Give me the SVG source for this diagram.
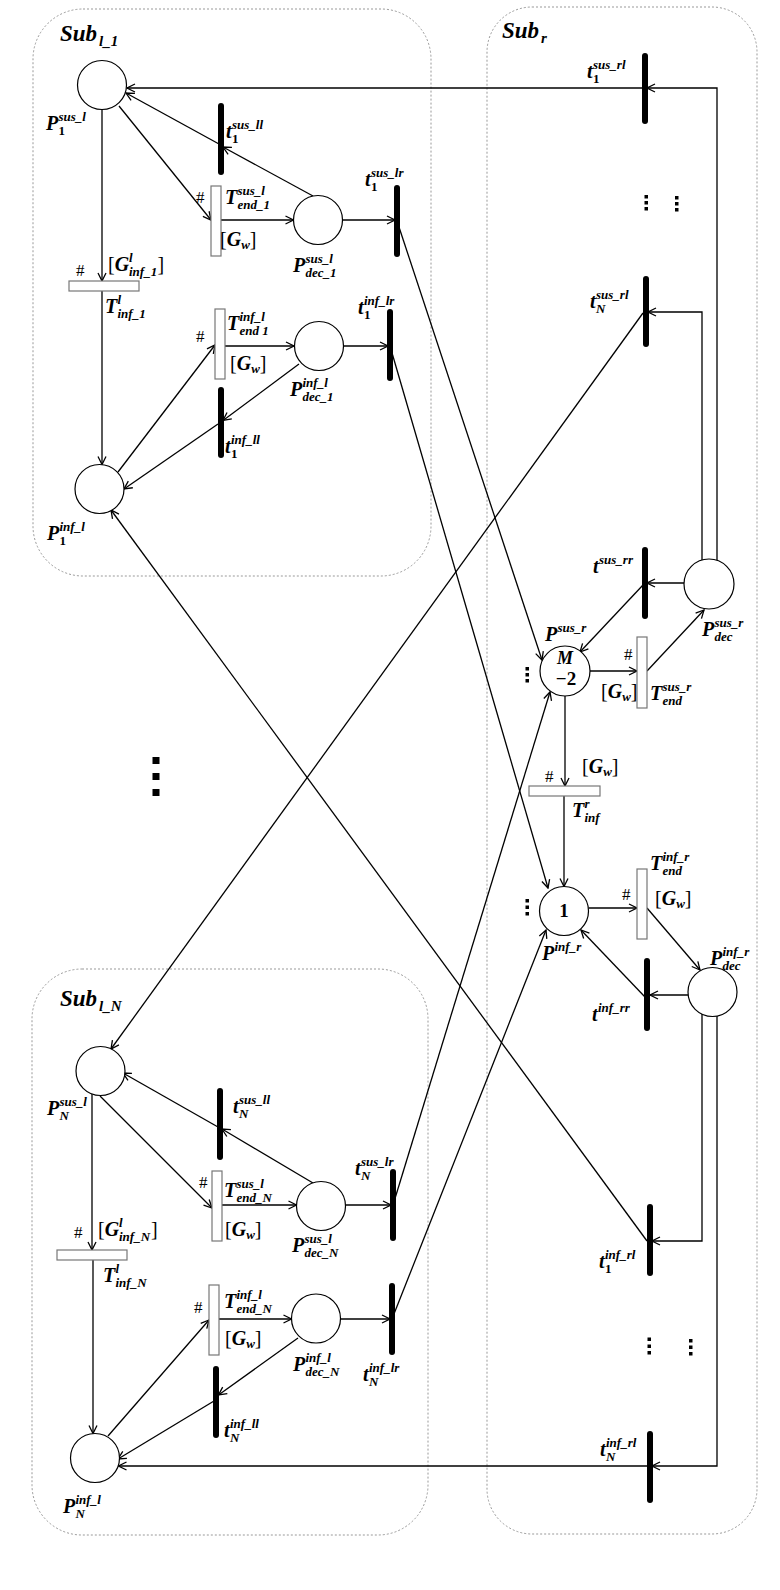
<svg xmlns="http://www.w3.org/2000/svg" width="780" height="1590" viewBox="0 0 780 1590">
<style>
text{font-family:"Liberation Serif",serif;font-weight:bold;font-style:italic;font-size:20px;fill:#000}
.sc{font-size:13px}
.up{font-style:normal}
.rg{font-weight:normal;font-style:normal}
.hs{font-family:"Liberation Serif",serif;font-weight:normal;font-style:normal;font-size:17px}
.sb{font-size:23px}
.ss{font-size:15px}
.box{fill:none;stroke:#999;stroke-width:1;stroke-dasharray:2 2}
.pl{fill:#fff;stroke:#000;stroke-width:1.2}
.bar{fill:#000}
.ht{fill:#fff;stroke:#777;stroke-width:1.2}
.dot{fill:#000}
#conn path{fill:none;stroke:#000;stroke-width:1.3;marker-end:url(#a)}
</style>
<defs>
<marker id="a" markerWidth="10" markerHeight="10" refX="9" refY="5" orient="auto" markerUnits="userSpaceOnUse">
<path d="M1,1 L9,5 L1,9" fill="none" stroke="#000" stroke-width="1.3"/>
</marker>
</defs>
<rect width="780" height="1590" fill="#fff"/>

<g id="boxes">
<rect id="sub_l1" class="box" x="33" y="9" width="398" height="567" rx="50"/>
<rect id="sub_r" class="box" x="487" y="7" width="270" height="1527" rx="45"/>
<rect id="sub_lN" class="box" x="32" y="969" width="396" height="566" rx="50"/>
</g>

<g id="conn">
<path d="M102,109.5 V281"/>
<path d="M119,106 L211,220"/>
<path d="M221,220 H293.5"/>
<path d="M342.5,220 H395"/>
<path d="M313,196 L223,147"/>
<path d="M219,144 L126,93"/>
<path d="M717,560.5 V88 H647"/>
<path d="M642,88 H127"/>
<path d="M102,291 V464.5"/>
<path d="M118,472 L215,345"/>
<path d="M225,346 H294"/>
<path d="M343.5,346 H388"/>
<path d="M299,364 L223,420.5"/>
<path d="M218,424 L124,489"/>
<path d="M390,346 L548,888"/>
<path d="M397,221 L542,660"/>
<path d="M702,560 V312 H648"/>
<path d="M643,313 L111,1049"/>
<path d="M684,583 H647"/>
<path d="M643,585 L580,652"/>
<path d="M590,671 H637"/>
<path d="M647,671 L704,610"/>
<path d="M565,696 V786"/>
<path d="M564,796 V886.5"/>
<path d="M588.5,908 H637"/>
<path d="M647,908 L700,970"/>
<path d="M688,995 H650"/>
<path d="M645,997 L581,930"/>
<path d="M702,1014 V1241 H652"/>
<path d="M717,1016 V1466 H652"/>
<path d="M647,1241 L111,510"/>
<path d="M647,1466 H118.5"/>
<path d="M92,1094 V1250"/>
<path d="M100,1096 L212,1208"/>
<path d="M222,1205 H296.5"/>
<path d="M345.5,1205 H391"/>
<path d="M313,1183 L222,1129"/>
<path d="M218,1127 L123,1073"/>
<path d="M393,1205 L550,692"/>
<path d="M93,1260 V1433.5"/>
<path d="M108,1436 L209,1320"/>
<path d="M219,1319 H291.5"/>
<path d="M340.5,1319 H390"/>
<path d="M298,1338 L218.5,1395"/>
<path d="M214,1401 L118,1459"/>
<path d="M392,1319 L546,930"/>
</g>

<g id="P1_sus_l"><circle class="pl" cx="102" cy="85" r="24.5"/>
<text x="46" y="130">P<tspan class="sc" x="58.5" y="120.5">sus_l</tspan><tspan class="sc up" x="58.5" y="135">1</tspan></text></g>
<g id="t1_sus_ll"><rect class="bar" x="218" y="103" width="6" height="72" rx="3"/>
<text x="226" y="138">t<tspan class="sc" x="232" y="128.5">sus_ll</tspan><tspan class="sc up" x="232" y="143">1</tspan></text></g>
<g id="T_end1_sus_l"><rect class="ht" x="211" y="186" width="10" height="70"/>
<text class="hs" x="196" y="203">#</text>
<text x="225" y="204">T<tspan class="sc" x="237.5" y="194.5">sus_l</tspan><tspan class="sc" x="237.5" y="209">end_1</tspan></text>
<text x="220" y="246"><tspan class="rg">[</tspan>G<tspan class="sc" y="249">w</tspan><tspan class="rg" y="246">]</tspan></text></g>
<g id="Pdec1_sus_l"><circle class="pl" cx="318" cy="220" r="24.5"/>
<text x="293" y="272">P<tspan class="sc" x="305.5" y="262.5">sus_l</tspan><tspan class="sc" x="305.5" y="277">dec_1</tspan></text></g>
<g id="t1_sus_lr"><rect class="bar" x="394" y="185" width="6" height="72" rx="3"/>
<text x="365" y="186">t<tspan class="sc" x="371" y="176.5">sus_lr</tspan><tspan class="sc up" x="371" y="191">1</tspan></text></g>
<g id="T_inf1_l"><rect class="ht" x="69" y="281" width="70" height="10"/>
<text class="hs" x="76" y="276">#</text>
<text x="108" y="271"><tspan class="rg">[</tspan>G<tspan class="sc" x="129" y="261.5">l</tspan><tspan class="sc" x="129" y="276">inf_1</tspan><tspan class="rg" x="157.5" y="271">]</tspan></text>
<text x="105" y="313">T<tspan class="sc" x="117.5" y="303.5">l</tspan><tspan class="sc" x="117.5" y="318">inf_1</tspan></text></g>
<g id="T_end1_inf_l"><rect class="ht" x="215" y="309" width="10" height="70"/>
<text class="hs" x="196" y="342">#</text>
<text x="227" y="330">T<tspan class="sc" x="239.5" y="320.5">inf_l</tspan><tspan class="sc" x="239.5" y="335">end 1</tspan></text>
<text x="230" y="370"><tspan class="rg">[</tspan>G<tspan class="sc" y="373">w</tspan><tspan class="rg" y="370">]</tspan></text></g>
<g id="Pdec1_inf_l"><circle class="pl" cx="319" cy="346" r="24.5"/>
<text x="290" y="396">P<tspan class="sc" x="302.5" y="386.5">inf_l</tspan><tspan class="sc" x="302.5" y="401">dec_1</tspan></text></g>
<g id="t1_inf_lr"><rect class="bar" x="387" y="309" width="6" height="72" rx="3"/>
<text x="358" y="314">t<tspan class="sc" x="364" y="304.5">inf_lr</tspan><tspan class="sc up" x="364" y="319">1</tspan></text></g>
<g id="t1_inf_ll"><rect class="bar" x="218" y="387" width="6" height="71" rx="3"/>
<text x="225" y="453">t<tspan class="sc" x="231" y="443.5">inf_ll</tspan><tspan class="sc up" x="231" y="458">1</tspan></text></g>
<g id="P1_inf_l"><circle class="pl" cx="99.5" cy="489" r="24.5"/>
<text x="47" y="540">P<tspan class="sc" x="59.5" y="530.5">inf_l</tspan><tspan class="sc up" x="59.5" y="545">1</tspan></text></g>

<g id="t1_sus_rl"><rect class="bar" x="642" y="53" width="6" height="71" rx="3"/>
<text x="587" y="78">t<tspan class="sc" x="593" y="68.5">sus_rl</tspan><tspan class="sc up" x="593" y="83">1</tspan></text></g>
<g id="tN_sus_rl"><rect class="bar" x="643" y="276" width="6" height="71" rx="3"/>
<text x="590" y="308">t<tspan class="sc" x="596" y="298.5">sus_rl</tspan><tspan class="sc" x="596" y="313">N</tspan></text></g>
<g id="t_sus_rr"><rect class="bar" x="642" y="547" width="6" height="72" rx="3"/>
<text x="593" y="573">t<tspan class="sc" x="599" y="564">sus_rr</tspan></text></g>
<g id="Pdec_sus_r"><circle class="pl" cx="709" cy="584" r="25"/>
<text x="702" y="636">P<tspan class="sc" x="714.5" y="626.5">sus_r</tspan><tspan class="sc" x="714.5" y="641">dec</tspan></text></g>
<g id="P_sus_r"><circle class="pl" cx="565" cy="671" r="25"/>
<text x="545" y="641">P<tspan class="sc" x="557.5" y="632">sus_r</tspan></text>
<text x="565" y="664" text-anchor="middle" style="font-size:18px">M</text>
<text class="up" x="566" y="685" text-anchor="middle" style="font-size:19px">−2</text></g>
<g id="T_end_sus_r"><rect class="ht" x="637" y="637" width="10" height="71"/>
<text class="hs" x="624" y="660">#</text>
<text x="601" y="698"><tspan class="rg">[</tspan>G<tspan class="sc" y="701">w</tspan><tspan class="rg" y="698">]</tspan></text>
<text x="650" y="700">T<tspan class="sc" x="662.5" y="690.5">sus_r</tspan><tspan class="sc" x="662.5" y="705">end</tspan></text></g>
<g id="T_inf_r"><rect class="ht" x="529" y="786" width="71" height="10"/>
<text class="hs" x="545" y="782">#</text>
<text x="582" y="773"><tspan class="rg">[</tspan>G<tspan class="sc" y="776">w</tspan><tspan class="rg" y="773">]</tspan></text>
<text x="572" y="817">T<tspan class="sc" x="584.5" y="807.5">r</tspan><tspan class="sc" x="584.5" y="822">inf</tspan></text></g>
<g id="P_inf_r"><circle class="pl" cx="564" cy="911" r="24.5"/>
<text class="up" x="564" y="917" text-anchor="middle" style="font-size:19px">1</text>
<text x="542" y="960">P<tspan class="sc" x="554.5" y="951">inf_r</tspan></text></g>
<g id="T_end_inf_r"><rect class="ht" x="637" y="869" width="10" height="70"/>
<text class="hs" x="622" y="900">#</text>
<text x="655" y="905"><tspan class="rg">[</tspan>G<tspan class="sc" y="908">w</tspan><tspan class="rg" y="905">]</tspan></text>
<text x="650" y="870">T<tspan class="sc" x="662.5" y="860.5">inf_r</tspan><tspan class="sc" x="662.5" y="875">end</tspan></text></g>
<g id="Pdec_inf_r"><circle class="pl" cx="712.5" cy="992" r="24.5"/>
<text x="710" y="965">P<tspan class="sc" x="722.5" y="955.5">inf_r</tspan><tspan class="sc" x="722.5" y="970">dec</tspan></text></g>
<g id="t_inf_rr"><rect class="bar" x="644" y="958" width="6" height="73" rx="3"/>
<text x="592" y="1021">t<tspan class="sc" x="598" y="1012">inf_rr</tspan></text></g>
<g id="t1_inf_rl"><rect class="bar" x="647" y="1204" width="6" height="72" rx="3"/>
<text x="599" y="1268">t<tspan class="sc" x="605" y="1258.5">inf_rl</tspan><tspan class="sc up" x="605" y="1273">1</tspan></text></g>
<g id="tN_inf_rl"><rect class="bar" x="647" y="1431" width="6" height="72" rx="3"/>
<text x="600" y="1456">t<tspan class="sc" x="606" y="1446.5">inf_rl</tspan><tspan class="sc" x="606" y="1461">N</tspan></text></g>

<g id="PN_sus_l"><circle class="pl" cx="100.5" cy="1071" r="24.5"/>
<text x="47" y="1115">P<tspan class="sc" x="59.5" y="1105.5">sus_l</tspan><tspan class="sc" x="59.5" y="1120">N</tspan></text></g>
<g id="tN_sus_ll"><rect class="bar" x="217" y="1088" width="6" height="72" rx="3"/>
<text x="233" y="1113">t<tspan class="sc" x="239" y="1103.5">sus_ll</tspan><tspan class="sc" x="239" y="1118">N</tspan></text></g>
<g id="T_endN_sus_l"><rect class="ht" x="212" y="1171" width="10" height="70"/>
<text class="hs" x="199" y="1188">#</text>
<text x="224" y="1197">T<tspan class="sc" x="236.5" y="1187.5">sus_l</tspan><tspan class="sc" x="236.5" y="1202">end_N</tspan></text>
<text x="225" y="1236"><tspan class="rg">[</tspan>G<tspan class="sc" y="1239">w</tspan><tspan class="rg" y="1236">]</tspan></text></g>
<g id="PdecN_sus_l"><circle class="pl" cx="321" cy="1206" r="24.5"/>
<text x="292" y="1252">P<tspan class="sc" x="304.5" y="1242.5">sus_l</tspan><tspan class="sc" x="304.5" y="1257">dec_N</tspan></text></g>
<g id="tN_sus_lr"><rect class="bar" x="390" y="1169" width="6" height="72" rx="3"/>
<text x="355" y="1175">t<tspan class="sc" x="361" y="1165.5">sus_lr</tspan><tspan class="sc" x="361" y="1180">N</tspan></text></g>
<g id="T_infN_l"><rect class="ht" x="57" y="1250" width="70" height="10"/>
<text class="hs" x="74" y="1238">#</text>
<text x="98" y="1236"><tspan class="rg">[</tspan>G<tspan class="sc" x="119" y="1226.5">l</tspan><tspan class="sc" x="119" y="1241">inf_N</tspan><tspan class="rg" x="151" y="1236">]</tspan></text>
<text x="103" y="1282">T<tspan class="sc" x="115.5" y="1272.5">l</tspan><tspan class="sc" x="115.5" y="1287">inf_N</tspan></text></g>
<g id="T_endN_inf_l"><rect class="ht" x="209" y="1285" width="10" height="70"/>
<text class="hs" x="194" y="1313">#</text>
<text x="224" y="1308">T<tspan class="sc" x="236.5" y="1298.5">inf_l</tspan><tspan class="sc" x="236.5" y="1313">end_N</tspan></text>
<text x="225" y="1345"><tspan class="rg">[</tspan>G<tspan class="sc" y="1348">w</tspan><tspan class="rg" y="1345">]</tspan></text></g>
<g id="PdecN_inf_l"><circle class="pl" cx="316" cy="1318.5" r="24.5"/>
<text x="293" y="1371">P<tspan class="sc" x="305.5" y="1361.5">inf_l</tspan><tspan class="sc" x="305.5" y="1376">dec_N</tspan></text></g>
<g id="tN_inf_lr"><rect class="bar" x="389" y="1283" width="6" height="72" rx="3"/>
<text x="363" y="1381">t<tspan class="sc" x="369" y="1371.5">inf_lr</tspan><tspan class="sc" x="369" y="1386">N</tspan></text></g>
<g id="tN_inf_ll"><rect class="bar" x="213" y="1366" width="6" height="72" rx="3"/>
<text x="224" y="1437">t<tspan class="sc" x="230" y="1427.5">inf_ll</tspan><tspan class="sc" x="230" y="1442">N</tspan></text></g>
<g id="PN_inf_l"><circle class="pl" cx="95" cy="1458" r="24.5"/>
<text x="63" y="1513">P<tspan class="sc" x="75.5" y="1503.5">inf_l</tspan><tspan class="sc" x="75.5" y="1518">N</tspan></text></g>

<g id="titles">
<text class="sb" x="60" y="41">Sub<tspan class="ss" x="99" y="46">l_1</tspan></text>
<text class="sb" x="502" y="38">Sub<tspan class="ss" x="541" y="43">r</tspan></text>
<text class="sb" x="60" y="1006">Sub<tspan class="ss" x="99" y="1011">l_N</tspan></text>
</g>

<g id="dots">
<rect class="dot" x="152.5" y="757" width="7" height="7"/>
<rect class="dot" x="152.5" y="773" width="7" height="7"/>
<rect class="dot" x="152.5" y="789" width="7" height="7"/>
<rect class="dot" x="525.5" y="667" width="3.5" height="3.5"/>
<rect class="dot" x="525.5" y="673" width="3.5" height="3.5"/>
<rect class="dot" x="525.5" y="679" width="3.5" height="3.5"/>
<rect class="dot" x="525.5" y="899" width="3.5" height="3.5"/>
<rect class="dot" x="525.5" y="905.5" width="3.5" height="3.5"/>
<rect class="dot" x="525.5" y="912" width="3.5" height="3.5"/>
<rect class="dot" x="644.5" y="195" width="3.5" height="3.5"/>
<rect class="dot" x="644.5" y="201" width="3.5" height="3.5"/>
<rect class="dot" x="644.5" y="207" width="3.5" height="3.5"/>
<rect class="dot" x="675" y="196" width="3.5" height="3.5"/>
<rect class="dot" x="675" y="202" width="3.5" height="3.5"/>
<rect class="dot" x="675" y="208" width="3.5" height="3.5"/>
<rect class="dot" x="647.5" y="1337.5" width="3.5" height="3.5"/>
<rect class="dot" x="647.5" y="1344.5" width="3.5" height="3.5"/>
<rect class="dot" x="647.5" y="1351" width="3.5" height="3.5"/>
<rect class="dot" x="689" y="1339" width="3.5" height="3.5"/>
<rect class="dot" x="689" y="1345.5" width="3.5" height="3.5"/>
<rect class="dot" x="689" y="1352" width="3.5" height="3.5"/>
</g>
</svg>
